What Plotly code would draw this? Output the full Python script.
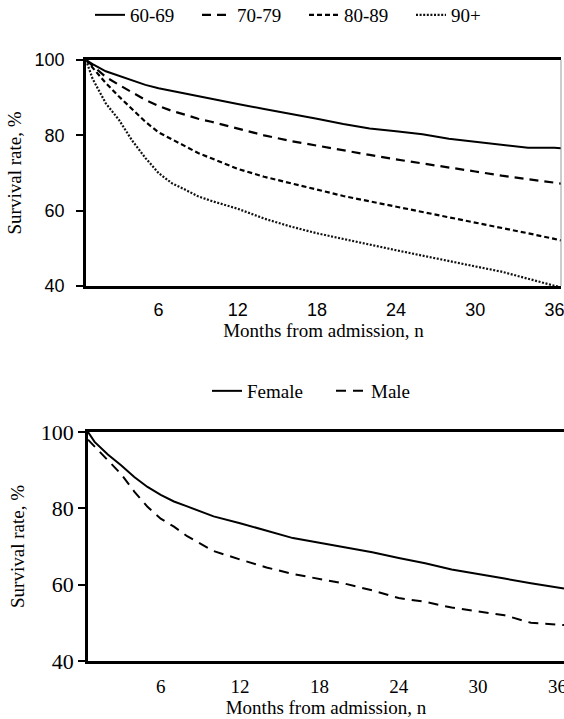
import plotly.graph_objects as go

# ---------------- data ----------------
months = [0.5, 1, 2, 3, 4, 5, 6, 7, 8, 9, 10, 12, 14, 16, 18, 20, 22, 24,
          26, 28, 30, 32, 34, 36, 36.5]

age_60_69 = [100, 98.9, 97.0, 95.8, 94.6, 93.4, 92.5, 91.8, 91.0, 90.3, 89.7,
             88.3, 87.0, 85.8, 84.4, 83.0, 81.8, 81.1, 80.3, 79.1, 78.3, 77.6,
             76.7, 76.7, 76.6]
age_70_79 = [100, 98.5, 95.5, 93.4, 91.3, 89.4, 87.8, 86.5, 85.5, 84.4, 83.6,
             81.8, 80.0, 78.5, 77.2, 76.1, 74.8, 73.6, 72.6, 71.5, 70.4, 69.3,
             68.3, 67.4, 67.2]
age_80_89 = [100, 98.0, 93.9, 90.3, 86.9, 83.6, 80.8, 78.9, 77.2, 75.3, 73.9,
             71.1, 69.0, 67.4, 65.6, 63.9, 62.5, 61.0, 59.6, 58.2, 56.8, 55.4,
             54.0, 52.5, 52.1]
age_90_plus = [100, 95.0, 88.5, 84.1, 78.6, 74.0, 70.0, 67.3, 65.6, 63.8, 62.6,
               60.5, 57.9, 55.8, 54.0, 52.4, 51.0, 49.5, 48.0, 46.5, 45.2, 43.8,
               42.0, 40.0, 39.6]

female = [100, 97.4, 94.1, 91.3, 88.2, 85.6, 83.5, 81.8, 80.5, 79.1, 77.9,
          76.1, 74.2, 72.2, 71.0, 69.8, 68.5, 67.0, 65.6, 64.0, 62.7, 61.6,
          60.4, 59.2, 59.0]
male = [98.0, 96.2, 92.4, 89.0, 84.4, 80.4, 77.3, 75.2, 72.7, 70.7, 68.8,
        66.6, 64.5, 62.8, 61.4, 60.2, 58.5, 56.5, 55.5, 54.0, 53.0, 52.0,
        50.0, 49.4, 49.4]

age_labels = ["60-69", "70-79", "80-89", "90+"]
sex_labels = ["Female", "Male"]
x_ticks = [6, 12, 18, 24, 30, 36]
y_ticks = [40, 60, 80, 100]
x_title = "Months from admission, n"
y_title = "Survival rate, %"

# ---------------- figure ----------------
W, H = 564, 719
SERIF = "Liberation Serif"
SANS = "Liberation Sans"

fig = go.Figure()

age_series = [age_60_69, age_70_79, age_80_89, age_90_plus]
age_styles = [dict(color="black", width=2, dash="solid"),
              dict(color="black", width=2.2, dash="9px,6px"),
              dict(color="black", width=2.2, dash="5px,3px"),
              dict(color="#111111", width=2.2, dash="2px,1.6px")]
for lab, ys, st in zip(age_labels, age_series, age_styles):
    fig.add_trace(go.Scatter(x=months, y=ys, mode="lines", name=lab, line=st,
                             xaxis="x", yaxis="y", legend="legend"))

sex_series = [female, male]
sex_styles = [dict(color="black", width=2, dash="solid"),
              dict(color="black", width=2, dash="10px,7px")]
for lab, ys, st in zip(sex_labels, sex_series, sex_styles):
    fig.add_trace(go.Scatter(x=months, y=ys, mode="lines", name=lab, line=st,
                             xaxis="x2", yaxis="y2", legend="legend2"))

def px_x(p):
    return p / W

def px_y(p):
    return 1 - p / H

common_x = dict(range=[0.5, 36.5], tickvals=x_ticks, showgrid=False,
                zeroline=False, showline=True, linecolor="black",
                linewidth=2.5, mirror=True, ticks="", ticklabelstandoff=6,
                ticklabeloverflow="allow", automargin=False)
common_y = dict(range=[40, 100], tickvals=y_ticks, showgrid=False,
                zeroline=False, showline=True, linecolor="black",
                linewidth=2.5, ticks="outside", ticklen=7, tickwidth=2,
                tickcolor="black", automargin=False)

fig.update_layout(
    width=W, height=H,
    margin=dict(l=0, r=0, t=0, b=0, autoexpand=False),
    paper_bgcolor="white", plot_bgcolor="white",
    font=dict(family=SERIF, color="black", size=19),
    xaxis=dict(common_x, domain=[px_x(86), px_x(561)], anchor="y",
               tickfont=dict(family=SANS, size=18),
               title=dict(text=x_title, font=dict(family=SERIF, size=19), standoff=4)),
    yaxis=dict(common_y, domain=[px_y(286), px_y(60)], anchor="x",
               tickfont=dict(family=SANS, size=18), ticklabelstandoff=8,
               title=dict(text=y_title, font=dict(family=SERIF, size=19), standoff=8)),
    xaxis2=dict(common_x, domain=[px_x(88), 1.0], anchor="y2",
                tickfont=dict(family=SERIF, size=19),
                title=dict(text=x_title, font=dict(family=SERIF, size=19), standoff=2)),
    yaxis2=dict(common_y, domain=[px_y(661), px_y(432)], anchor="x2",
                tickfont=dict(family=SERIF, size=22), ticklabelstandoff=0,
                title=dict(text=y_title, font=dict(family=SERIF, size=19), standoff=12)),
    legend=dict(orientation="h", x=px_x(90), y=px_y(-4), xanchor="left", yanchor="top",
                font=dict(family=SERIF, size=19), entrywidth=62, bgcolor="rgba(0,0,0,0)",
                traceorder="normal"),
    legend2=dict(orientation="h", x=px_x(207), y=px_y(372), xanchor="left", yanchor="top",
                 font=dict(family=SERIF, size=19), entrywidth=79, bgcolor="rgba(0,0,0,0)",
                 traceorder="normal"),
    shapes=[dict(type="line", xref="x domain", yref="y domain", x0=1, x1=1, y0=0, y1=1,
                 line=dict(color="#9a9a9a", width=1))],
)

fig.write_html(
    "out.html",
    config={"displayModeBar": False},
    post_script="document.body.style.margin='0';document.body.style.overflow='hidden';",
)
